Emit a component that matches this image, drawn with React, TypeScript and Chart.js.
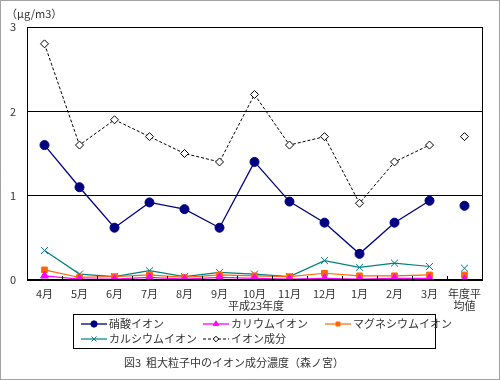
import React, { useEffect, useRef } from "react";
import { Chart, registerables } from "chart.js";
import { drawPoint } from "chart.js/helpers";

Chart.register(...registerables);

const categories: (string | string[])[] = ["4月", "5月", "6月", "7月", "8月", "9月", "10月", "11月", "12月", "1月", "2月", "3月", ["年度平", "均値"]];
const nitrate = [1.6, 1.1, 0.62, 0.92, 0.84, 0.62, 1.4, 0.93, 0.68, 0.31, 0.68, 0.94, 0.88];
const potassium = [0.05, 0.01, 0.01, 0.03, 0.01, 0.03, 0.02, 0.01, 0.02, 0.01, 0.02, 0.02, 0.01];
const magnesium = [0.12, 0.03, 0.04, 0.06, 0.03, 0.06, 0.05, 0.04, 0.08, 0.05, 0.05, 0.06, 0.06];
const calcium = [0.35, 0.07, 0.04, 0.11, 0.04, 0.09, 0.07, 0.04, 0.23, 0.15, 0.2, 0.16, 0.14];
const ionTotal = [2.8, 1.6, 1.9, 1.7, 1.5, 1.4, 2.2, 1.6, 1.7, 0.91, 1.4, 1.6, 1.7];
const yTicks = [0, 1, 2, 3];
const unitLabel = "（μg/m3）";
const xTitle = "平成23年度";
const caption = "図3  粗大粒子中のイオン成分濃度（森ノ宮）";

const FONT = "'Noto Sans CJK JP', 'Noto Sans', sans-serif";

type DS = {
  label: string;
  data: number[];
  color: string;
  style: string;
  radius: number;
  fill: string;
  dash?: number[];
  width: number;
};

const series: DS[] = [
  { label: "硝酸イオン", data: nitrate, color: "#000080", style: "circle", radius: 4.5, fill: "#000080", width: 1.3 },
  { label: "カリウムイオン", data: potassium, color: "#FF00FF", style: "triangle", radius: 4.5, fill: "#FF00FF", width: 1.3 },
  { label: "マグネシウムイオン", data: magnesium, color: "#FF6600", style: "rect", radius: 4, fill: "#FF6600", width: 1.2 },
  { label: "カルシウムイオン", data: calcium, color: "#008080", style: "crossRot", radius: 5, fill: "#008080", width: 1.2 },
  { label: "イオン成分", data: ionTotal, color: "#000000", style: "rectRot", radius: 4, fill: "#FFFFFF", dash: [3, 2], width: 1 },
];

const decorPlugin = {
  id: "decor",
  beforeDraw(chart: any) {
    const ctx = chart.ctx;
    ctx.save();
    ctx.fillStyle = "#fff";
    ctx.fillRect(0, 0, chart.width, chart.height);
    ctx.restore();
  },
  afterDatasetsDraw(chart: any) {
    const ctx = chart.ctx;
    const a = chart.chartArea;
    ctx.save();
    ctx.strokeStyle = "#000";
    ctx.lineWidth = 1;
    ctx.strokeRect(Math.round(a.left) + 0.5, Math.round(a.top) + 0.5, Math.round(a.right - a.left), Math.round(a.bottom - a.top));
    ctx.lineWidth = 2;
    ctx.beginPath();
    ctx.moveTo(a.left, a.bottom);
    ctx.lineTo(a.right, a.bottom);
    ctx.stroke();
    const xs = chart.scales.x;
    ctx.lineWidth = 1;
    for (let i = 1; i < categories.length; i++) {
      const x = Math.round((xs.getPixelForValue(i - 1) + xs.getPixelForValue(i)) / 2) + 0.5;
      ctx.beginPath();
      ctx.moveTo(x, a.bottom);
      ctx.lineTo(x, a.bottom - 4);
      ctx.stroke();
    }
    ctx.strokeStyle = "#444";
    ctx.setLineDash([1, 1]);
    ctx.strokeRect(0.5, 0.5, chart.width - 1, chart.height - 1);
    ctx.setLineDash([]);

    ctx.fillStyle = "#333";
    ctx.font = `11px ${FONT}`;
    ctx.textBaseline = "middle";
    ctx.textAlign = "left";
    ctx.fillText(unitLabel, 6, 14);
    ctx.textAlign = "center";
    ctx.fillText(xTitle, 256, 306);
    ctx.fillText(caption, 234, 363);

    ctx.strokeStyle = "#000";
    ctx.lineWidth = 1;
    ctx.strokeRect(73.5, 314.5, 362, 34);
    const cols = [81, 203, 325];
    const rows = [324, 339];
    series.forEach((s, i) => {
      const col = cols[i % 3];
      const row = rows[Math.floor(i / 3)];
      ctx.strokeStyle = s.color;
      ctx.lineWidth = s.width;
      ctx.setLineDash(s.dash || []);
      ctx.beginPath();
      ctx.moveTo(col, row);
      ctx.lineTo(col + 26, row);
      ctx.stroke();
      ctx.setLineDash([]);
      ctx.fillStyle = s.fill;
      ctx.strokeStyle = s.color;
      ctx.lineWidth = 1;
      drawPoint(ctx, { pointStyle: s.style, radius: s.radius * 0.7, rotation: 0, borderWidth: 1 } as any, col + 13, row);
      ctx.fillStyle = "#333";
      ctx.textAlign = "left";
      ctx.font = `11px ${FONT}`;
      ctx.fillText(s.label, col + 28, row);
    });
    ctx.restore();
  },
};

export default function App() {
  const ref = useRef<HTMLCanvasElement>(null);
  useEffect(() => {
    document.body.style.margin = "0";
    const chart = new Chart(ref.current!, {
      type: "line",
      data: {
        labels: categories as any,
        datasets: series.map((s) => ({
          label: s.label,
          data: s.data,
          borderColor: s.color,
          backgroundColor: s.fill,
          borderWidth: s.width,
          borderDash: s.dash || [],
          pointStyle: s.style as any,
          pointRadius: s.radius,
          pointBackgroundColor: s.fill,
          pointBorderColor: s.color,
          pointBorderWidth: 1,
          tension: 0,
          fill: false,
          segment: {
            borderColor: (c: any) => (c.p1DataIndex === categories.length - 1 ? "rgba(0,0,0,0)" : s.color),
          },
        })),
      },
      options: {
        responsive: false,
        animation: false,
        events: [],
        layout: { padding: { left: 0, right: 18, top: 27, bottom: 0 } },
        plugins: { legend: { display: false }, tooltip: { enabled: false }, title: { display: false } },
        scales: {
          x: {
            offset: true,
            grid: { display: false, drawTicks: false },
            border: { display: false },
            ticks: { color: "#333", font: { family: FONT, size: 11, lineHeight: 1.1 }, padding: 8, maxRotation: 0, autoSkip: false },
            afterFit: (s: any) => {
              s.height = 100;
            },
          },
          y: {
            min: 0,
            max: 3,
            afterBuildTicks: (s: any) => {
              s.ticks = yTicks.map((v) => ({ value: v }));
            },
            grid: { color: "#000", lineWidth: 1, drawTicks: false },
            border: { display: false },
            ticks: { color: "#333", font: { family: FONT, size: 11 }, padding: 11 },
            afterFit: (s: any) => {
              s.width = 27;
            },
          },
        },
      },
      plugins: [decorPlugin],
    });
    return () => chart.destroy();
  }, []);
  return (
    <div style={{ width: 500, height: 380 }}>
      <canvas ref={ref} width={500} height={380} />
    </div>
  );
}
